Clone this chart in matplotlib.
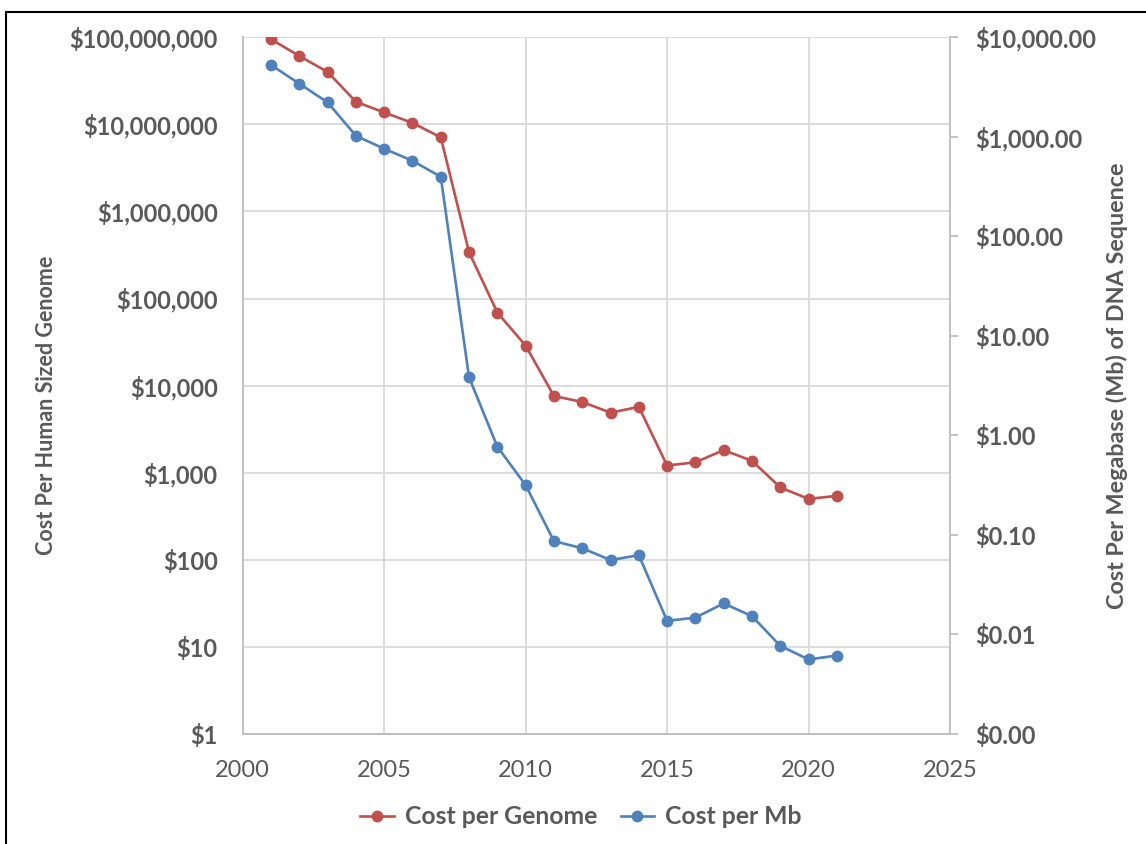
import matplotlib
matplotlib.use("Agg")
import matplotlib.pyplot as plt
from matplotlib.ticker import FixedLocator, FuncFormatter, NullLocator
from matplotlib.lines import Line2D

plt.rcParams['font.family'] = ['Lato', 'DejaVu Sans']

# values
years = list(range(2001, 2022))
cost_per_genome = [9.5e7, 6.1e7, 4.0e7, 1.82e7, 1.37e7, 1.04e7, 7.1e6,
                   3.4e5, 6.9e4, 2.88e4, 7.6e3, 6.5e3, 4.9e3, 5.7e3,
                   1.21e3, 1.32e3, 1.82e3, 1.37e3, 678, 501, 543]
cost_per_mb = [5270, 3420, 2220, 1025, 759, 575, 397,
               3.83, 0.77, 0.316, 0.0867, 0.0736, 0.0559, 0.0627,
               0.0137, 0.0148, 0.0205, 0.0153, 0.00769, 0.00561, 0.00615]

left_ticks = [1, 10, 100, 1e3, 1e4, 1e5, 1e6, 1e7, 1e8]
right_ticks = [1e-3, 1e-2, 1e-1, 1, 10, 100, 1e3, 1e4]
x_ticks = [2000, 2005, 2010, 2015, 2020, 2025]

red = '#C0504D'
blue = '#4F81BD'
grey_text = '#595959'
grid_col = '#D9D9D9'

fig = plt.figure(figsize=(11.46, 8.44), dpi=100)
ax = fig.add_axes([0.2118, 0.1303, 0.829 - 0.2118, 0.9558 - 0.1303])
ax2 = ax.twinx()

ax.set_yscale('log')
ax.set_ylim(1, 1e8)
ax.set_xlim(2000, 2025)
ax2.set_yscale('log')
ax2.set_ylim(1e-3, 1e4)

ax.yaxis.set_major_locator(FixedLocator(left_ticks))
ax.yaxis.set_minor_locator(NullLocator())
ax.yaxis.set_major_formatter(FuncFormatter(lambda v, p: '${:,.0f}'.format(v)))
ax2.yaxis.set_major_locator(FixedLocator(right_ticks))
ax2.yaxis.set_minor_locator(NullLocator())
ax2.yaxis.set_major_formatter(FuncFormatter(lambda v, p: '${:,.2f}'.format(v)))
ax.xaxis.set_major_locator(FixedLocator(x_ticks))

ax.grid(True, color=grid_col, linewidth=1.3, zorder=0)
ax.set_axisbelow(True)

l1, = ax.plot(years, cost_per_genome, color=red, linewidth=1.9, marker='o',
              markersize=7.5, label='Cost per Genome', zorder=3)
l2, = ax2.plot(years, cost_per_mb, color=blue, linewidth=1.9, marker='o',
               markersize=7.5, label='Cost per Mb', zorder=3)

for a in (ax, ax2):
    a.spines['top'].set_visible(False)
    for s in ('left', 'right', 'bottom'):
        a.spines[s].set_color('#BFBFBF')
        a.spines[s].set_linewidth(1.3)
ax.spines['right'].set_visible(False)
ax2.spines['left'].set_visible(False)

ax.tick_params(axis='y', length=0, pad=18, labelsize=17, labelcolor=grey_text)
ax.tick_params(axis='x', length=0, pad=19, labelsize=17, labelcolor=grey_text)
ax2.tick_params(axis='y', length=6, width=1.3, color='#BFBFBF', pad=12,
                labelsize=17, labelcolor=grey_text)
for t in ax.get_yticklabels() + ax2.get_yticklabels():
    t.set_fontweight('bold')

ax.set_ylabel('Cost Per Human Sized Genome', fontsize=15.5, fontweight='bold',
              color=grey_text, va='center')
ax.yaxis.set_label_coords(-0.278, 0.472)
ax2.set_ylabel('Cost Per Megabase (Mb) of DNA Sequence', fontsize=16.8,
               fontweight='bold', color=grey_text, va='center')
ax2.yaxis.set_label_coords(1.236, 0.50)

leg = fig.legend(handles=[l1, l2], loc='center', bbox_to_anchor=(0.507, 1 - 817 / 844),
                 ncol=2, frameon=False, fontsize=17.8, handlelength=1.35,
                 columnspacing=0.95, handletextpad=0.45)
for t in leg.get_texts():
    t.set_color(grey_text)
    t.set_fontweight('bold')

# frame of the screenshot (top and left edge)
fig.add_artist(Line2D([6 / 1146, 1.0], [1 - 12 / 844, 1 - 12 / 844],
                      color='black', linewidth=1.5, transform=fig.transFigure))
fig.add_artist(Line2D([6 / 1146, 6 / 1146], [0, 1 - 12 / 844],
                      color='black', linewidth=1.5, transform=fig.transFigure))

fig.savefig('out.png', dpi=100)
